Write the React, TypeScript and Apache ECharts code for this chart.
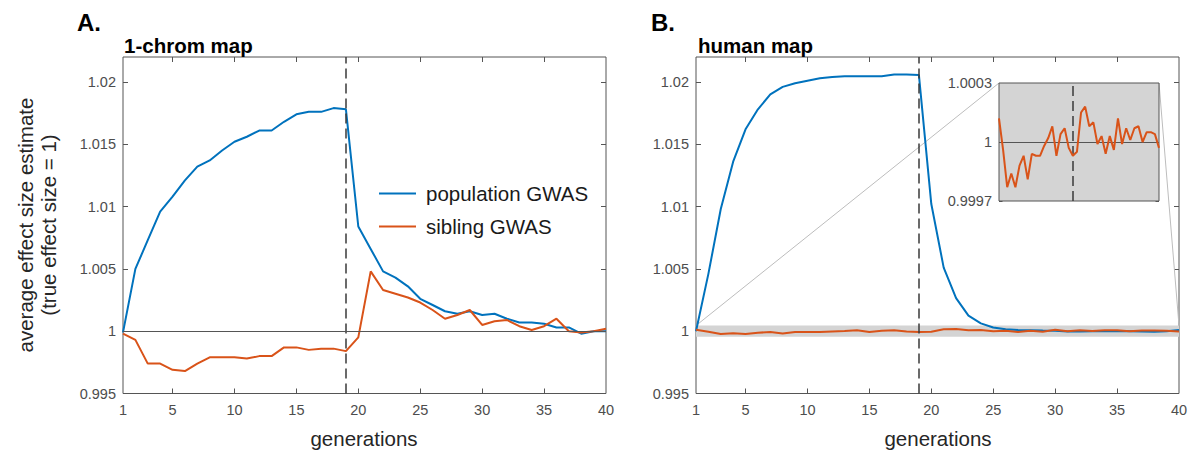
import React, { useEffect, useRef } from "react";
import * as echarts from "echarts";

// ---------- data ----------
const generations = [
  1, 2, 3, 4, 5, 6, 7, 8, 9, 10, 11, 12, 13, 14, 15, 16, 17, 18, 19, 20,
  21, 22, 23, 24, 25, 26, 27, 28, 29, 30, 31, 32, 33, 34, 35, 36, 37, 38, 39, 40,
];

// Panel A: 1-chrom map
const chromPopulation = [
  0.9999, 1.005, 1.0073, 1.0096, 1.0108, 1.0121, 1.0132, 1.0137, 1.0145, 1.0152,
  1.0156, 1.0161, 1.0161, 1.0168, 1.0174, 1.0176, 1.0176, 1.0179, 1.0178, 1.0084,
  1.0066, 1.0048, 1.0043, 1.0036, 1.0026, 1.0021, 1.0016, 1.0014, 1.0016, 1.0013,
  1.0014, 1.001, 1.0007, 1.0007, 1.0006, 1.0003, 1.0003, 0.9998, 1.0, 1.0,
];
const chromSibling = [
  0.9998, 0.9993, 0.9974, 0.9974, 0.9969, 0.9968, 0.9974, 0.9979, 0.9979, 0.9979,
  0.9978, 0.998, 0.998, 0.9987, 0.9987, 0.9985, 0.9986, 0.9986, 0.9984, 0.9995,
  1.0048, 1.0033, 1.003, 1.0027, 1.0023, 1.0017, 1.001, 1.0013, 1.0017, 1.0005,
  1.0008, 1.0009, 1.0004, 1.0001, 1.0004, 1.001, 1.0, 0.9999, 1.0, 1.0002,
];

// Panel B: human map
const humanPopulation = [
  1.0, 1.0046, 1.0098, 1.0136, 1.0162, 1.0178, 1.019, 1.0196, 1.0199, 1.0201,
  1.0203, 1.0204, 1.02045, 1.02045, 1.02045, 1.02045, 1.0206, 1.0206, 1.02055, 1.0102,
  1.0051, 1.00265, 1.00125, 1.00063, 1.0003, 1.00015, 1.0001, 1.00008, 1.00005, 1.00003,
  0.99997, 0.99998, 1.0, 1.0, 1.00002, 1.0, 0.99998, 0.99995, 1.0, 1.0001,
];
const humanSibling = [
  1.00012, 0.99996, 0.99977, 0.99984, 0.99977, 0.99988, 0.99993, 0.99981, 0.99994, 0.99993,
  0.99993, 0.99998, 1.00002, 1.00008, 0.99993, 1.00004, 1.00007, 0.99997, 0.99993, 0.99995,
  1.00015, 1.00018, 1.00008, 1.0001, 0.99999, 1.00003, 0.99994, 1.00003, 0.99996, 1.00012,
  0.99999, 1.00007, 1.00001, 1.00007, 1.00008, 1.0, 1.00005, 1.00005, 1.00004, 0.99997,
];

const seriesNames = ["population GWAS", "sibling GWAS"];
const xLabelValues = [1, 5, 10, 15, 20, 25, 30, 35, 40];
const xTickValues = [5, 10, 15, 20, 25, 30, 35];
const mainYValues = [0.995, 1, 1.005, 1.01, 1.015, 1.02];
const insetYTicks = [0.9997, 0.9998, 0.9999, 1, 1.0001, 1.0002, 1.0003];
const insetYLabels = [0.9997, 1, 1.0003];
const selectionGeneration = 19;
const bandRange = [0.99955, 1.00045];

const X_MIN = 1;
const X_MAX = 40;
const Y_MIN = 0.995;
const Y_MAX = 1.022;
const INSET_MIN = 0.9997;
const INSET_MAX = 1.0003;

const BLUE = "#0072BD";
const ORANGE = "#D95319";
const AXIS = "#555555";
const LABEL = "#4d4d4d";
const FONT = "'Liberation Sans', Arial, Helvetica, sans-serif";

const pairs = (ys: number[]) => generations.map((g, i) => [g, ys[i]]);
const fmt = (v: number) => String(+Number(v).toFixed(5));

function xAxis(gridIndex: number, position: string, labels: boolean, tickLen: number) {
  return {
    type: "value",
    gridIndex,
    position,
    min: X_MIN,
    max: X_MAX,
    axisLine: { show: false },
    splitLine: { show: false },
    axisTick: {
      show: true,
      inside: true,
      length: tickLen,
      customValues: xTickValues,
      lineStyle: { color: AXIS, width: 1 },
    },
    axisLabel: {
      show: labels,
      customValues: xLabelValues,
      color: LABEL,
      fontSize: 14.5,
      fontFamily: FONT,
      margin: 9,
      formatter: (v: number) => fmt(v),
    },
  };
}

function yAxis(
  gridIndex: number,
  position: string,
  labels: boolean,
  min: number,
  max: number,
  ticks: number[],
  labelVals: number[],
  tickLen: number
) {
  return {
    type: "value",
    gridIndex,
    position,
    min,
    max,
    axisLine: { show: false },
    splitLine: { show: false },
    axisTick: {
      show: true,
      inside: true,
      length: tickLen,
      customValues: ticks,
      lineStyle: { color: AXIS, width: 1 },
    },
    axisLabel: {
      show: labels,
      customValues: labelVals,
      color: LABEL,
      fontSize: 14.5,
      fontFamily: FONT,
      margin: 7,
      formatter: (v: number) => fmt(v),
    },
  };
}

const dashed = {
  xAxis: selectionGeneration,
  lineStyle: { color: "#3a3a3a", width: 1.5, type: [10, 5] },
};
const unity = { yAxis: 1, lineStyle: { color: "#555555", width: 1, type: "solid" } };

function markLines(items: any[]) {
  return {
    silent: true,
    symbol: ["none", "none"],
    label: { show: false },
    emphasis: { disabled: true },
    animation: false,
    data: items,
  };
}

function lineSeries(name: string, color: string, data: number[], xi: number, extra: any = {}) {
  return {
    type: "line",
    name,
    xAxisIndex: xi,
    yAxisIndex: xi,
    data: pairs(data),
    showSymbol: false,
    symbol: "none",
    lineStyle: { color, width: 2 },
    itemStyle: { color },
    emphasis: { disabled: true },
    z: 3,
    ...extra,
  };
}

export default function App() {
  const ref = useRef<HTMLDivElement>(null);

  useEffect(() => {
    if (!ref.current) return;
    const chart = echarts.init(ref.current, undefined, { renderer: "svg" });

    const gridBase = { show: true, borderColor: AXIS, borderWidth: 1, containLabel: false };

    chart.setOption({
      animation: false,
      backgroundColor: "#ffffff",
      textStyle: { fontFamily: FONT },
      grid: [
        { ...gridBase, left: 123, top: 57, width: 483, height: 336.5, backgroundColor: "transparent" },
        { ...gridBase, left: 696, top: 57, width: 483, height: 336.5, backgroundColor: "transparent" },
        { ...gridBase, left: 999, top: 83, width: 160, height: 118, backgroundColor: "#d4d4d4", z: 4 },
      ],
      xAxis: [
        xAxis(0, "bottom", true, 5),
        xAxis(0, "top", false, 5),
        xAxis(1, "bottom", true, 5),
        xAxis(1, "top", false, 5),
        xAxis(2, "bottom", false, 3.5),
        xAxis(2, "top", false, 3.5),
      ],
      yAxis: [
        yAxis(0, "left", true, Y_MIN, Y_MAX, mainYValues, mainYValues, 5),
        yAxis(0, "right", false, Y_MIN, Y_MAX, mainYValues, mainYValues, 5),
        yAxis(1, "left", true, Y_MIN, Y_MAX, mainYValues, mainYValues, 5),
        yAxis(1, "right", false, Y_MIN, Y_MAX, mainYValues, mainYValues, 5),
        yAxis(2, "left", true, INSET_MIN, INSET_MAX, insetYTicks, insetYLabels, 3.5),
        yAxis(2, "right", false, INSET_MIN, INSET_MAX, insetYTicks, insetYLabels, 3.5),
      ],
      legend: {
        data: seriesNames,
        orient: "vertical",
        left: 374,
        top: 178,
        icon: "rect",
        itemWidth: 37,
        itemHeight: 2,
        itemGap: 12,
        selectedMode: false,
        textStyle: {
          fontSize: 20.5,
          fontFamily: FONT,
          color: "#1a1a1a",
          lineHeight: 18,
          padding: [0, 0, 0, 5],
        },
      },
      series: [
        lineSeries(seriesNames[0], BLUE, chromPopulation, 0, {
          markLine: markLines([dashed, unity]),
        }),
        lineSeries(seriesNames[1], ORANGE, chromSibling, 0),
        lineSeries(seriesNames[0], BLUE, humanPopulation, 2, {
          markLine: markLines([dashed]),
          markArea: {
            silent: true,
            itemStyle: { color: "#d4d4d4", opacity: 1 },
            label: { show: false },
            emphasis: { disabled: true },
            data: [[{ yAxis: bandRange[0] }, { yAxis: bandRange[1] }]],
          },
        }),
        lineSeries(seriesNames[1], ORANGE, humanSibling, 2),
        lineSeries(seriesNames[1], ORANGE, humanSibling, 4, {
          z: 6,
          markLine: markLines([dashed, unity]),
        }),
      ],
    });

    const insetTL = chart.convertToPixel({ xAxisIndex: 4, yAxisIndex: 4 }, [X_MIN, INSET_MAX]);
    const insetTR = chart.convertToPixel({ xAxisIndex: 4, yAxisIndex: 4 }, [X_MAX, INSET_MAX]);
    const bandTL = chart.convertToPixel({ xAxisIndex: 2, yAxisIndex: 2 }, [X_MIN, bandRange[1]]);
    const bandTR = chart.convertToPixel({ xAxisIndex: 2, yAxisIndex: 2 }, [X_MAX, bandRange[1]]);

    const txt = (text: string, x: number, y: number, size: number, bold: boolean, extra: any = {}) => ({
      type: "text",
      x,
      y,
      z: 10,
      style: {
        text,
        fontSize: size,
        fontFamily: FONT,
        fontWeight: bold ? "bold" : "normal",
        fill: bold ? "#000000" : "#262626",
        align: "left",
        verticalAlign: "middle",
        ...extra,
      },
    });

    chart.setOption({
      graphic: [
        {
          type: "line",
          z: 1,
          silent: true,
          shape: { x1: insetTL[0], y1: insetTL[1], x2: bandTL[0], y2: bandTL[1] },
          style: { stroke: "#bdbdbd", lineWidth: 1 },
        },
        {
          type: "line",
          z: 1,
          silent: true,
          shape: { x1: insetTR[0], y1: insetTR[1], x2: bandTR[0], y2: bandTR[1] },
          style: { stroke: "#bdbdbd", lineWidth: 1 },
        },
        txt("A.", 77, 22, 24, true),
        txt("B.", 651, 22, 24, true),
        txt("1-chrom map", 124, 45, 20.5, true),
        txt("human map", 698, 45, 20.5, true),
        txt("generations", 364, 438, 20.5, false, { align: "center" }),
        txt("generations", 938, 438, 20.5, false, { align: "center" }),
        {
          type: "text",
          x: 25,
          y: 225,
          rotation: Math.PI / 2,
          z: 10,
          style: {
            text: "average effect size estimate",
            fontSize: 20.5,
            fontFamily: FONT,
            fill: "#262626",
            align: "center",
            verticalAlign: "middle",
          },
        },
        {
          type: "text",
          x: 48,
          y: 225,
          rotation: Math.PI / 2,
          z: 10,
          style: {
            text: "(true effect size = 1)",
            fontSize: 20.5,
            fontFamily: FONT,
            fill: "#262626",
            align: "center",
            verticalAlign: "middle",
          },
        },
      ],
    });

    return () => chart.dispose();
  }, []);

  return (
    <div
      ref={ref}
      style={{ position: "absolute", left: 0, top: 0, width: 1191, height: 455, background: "#fff" }}
    />
  );
}
